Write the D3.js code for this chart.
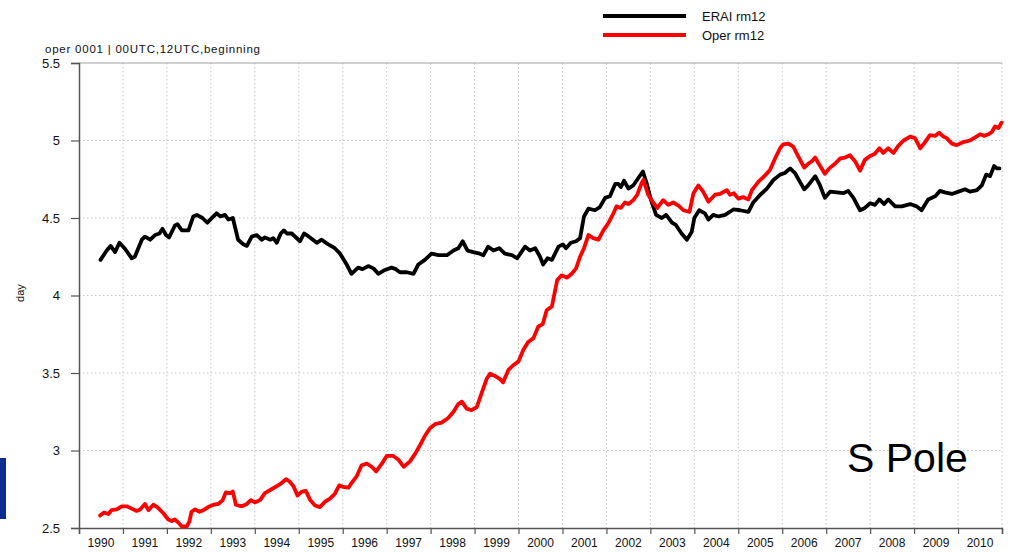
<!DOCTYPE html>
<html>
<head>
<meta charset="utf-8">
<script src="https://cdn.jsdelivr.net/npm/d3@7"></script>
<style>
  html, body { margin: 0; padding: 0; background: #fff; }
  svg { display: block; font-family: "Liberation Sans", Arial, Helvetica, sans-serif; }
</style>
</head>
<body>
<svg id="chart" width="1011" height="553"></svg>
<script>
// ---------- data ----------
const yearTicks = d3.range(1990, 2012);            // year boundaries
const yearLabels = d3.range(1990, 2011).map(String);
const yTickValues = [2.5, 3, 3.5, 4, 4.5, 5, 5.5];
const yTickLabels = ["2.5", "3", "3.5", "4", "4.5", "5", "5.5"];
const seriesNames = ["ERAI rm12", "Oper rm12"];
const seriesColors = ["#000000", "#ff0000"];

const eraiYears = [1990.49,1990.63,1990.72,1990.82,1990.92,1991.05,1991.20,1991.27,1991.43,1991.50,1991.62,1991.73,1991.83,1991.90,1991.98,1992.05,1992.18,1992.24,1992.34,1992.49,1992.60,1992.68,1992.81,1992.92,1993.06,1993.13,1993.22,1993.32,1993.40,1993.50,1993.62,1993.74,1993.82,1993.93,1994.04,1994.16,1994.23,1994.35,1994.42,1994.50,1994.59,1994.66,1994.73,1994.84,1995.03,1995.12,1995.18,1995.41,1995.52,1995.67,1995.82,1995.94,1996.09,1996.20,1996.35,1996.45,1996.58,1996.70,1996.81,1996.96,1997.11,1997.21,1997.30,1997.46,1997.61,1997.72,1997.87,1998.02,1998.18,1998.37,1998.52,1998.63,1998.73,1998.84,1998.97,1999.12,1999.20,1999.31,1999.43,1999.56,1999.69,1999.85,1999.97,2000.15,2000.26,2000.38,2000.49,2000.56,2000.66,2000.76,2000.91,2001.01,2001.08,2001.19,2001.31,2001.40,2001.49,2001.59,2001.74,2001.85,2001.97,2002.08,2002.20,2002.27,2002.33,2002.40,2002.50,2002.61,2002.73,2002.83,2002.92,2003.01,2003.13,2003.26,2003.36,2003.49,2003.58,2003.71,2003.83,2003.94,2004.00,2004.11,2004.24,2004.32,2004.43,2004.55,2004.70,2004.89,2005.04,2005.23,2005.34,2005.50,2005.65,2005.80,2005.95,2006.06,2006.18,2006.29,2006.41,2006.50,2006.59,2006.75,2006.86,2006.97,2007.09,2007.24,2007.39,2007.50,2007.62,2007.77,2007.88,2008.00,2008.11,2008.21,2008.32,2008.41,2008.57,2008.72,2008.91,2009.06,2009.17,2009.32,2009.48,2009.59,2009.70,2009.86,2010.01,2010.16,2010.27,2010.43,2010.54,2010.64,2010.73,2010.82,2010.89,2010.94];
const eraiValues = [4.23,4.29,4.32,4.28,4.34,4.30,4.24,4.25,4.36,4.38,4.36,4.39,4.40,4.43,4.39,4.375,4.45,4.46,4.42,4.42,4.51,4.52,4.50,4.47,4.51,4.53,4.51,4.52,4.49,4.50,4.36,4.33,4.32,4.38,4.39,4.36,4.375,4.36,4.37,4.34,4.40,4.42,4.40,4.40,4.35,4.40,4.39,4.34,4.36,4.33,4.305,4.27,4.20,4.14,4.18,4.17,4.19,4.175,4.14,4.165,4.18,4.17,4.15,4.15,4.14,4.20,4.23,4.27,4.26,4.26,4.29,4.305,4.35,4.29,4.28,4.27,4.26,4.315,4.29,4.305,4.27,4.26,4.24,4.315,4.29,4.305,4.25,4.20,4.24,4.23,4.315,4.33,4.305,4.34,4.35,4.37,4.51,4.56,4.55,4.57,4.63,4.64,4.72,4.72,4.70,4.74,4.69,4.71,4.76,4.80,4.72,4.62,4.52,4.50,4.52,4.47,4.455,4.40,4.36,4.41,4.50,4.55,4.53,4.49,4.52,4.51,4.52,4.555,4.55,4.54,4.60,4.65,4.69,4.745,4.78,4.79,4.82,4.79,4.73,4.685,4.71,4.77,4.71,4.63,4.67,4.665,4.66,4.675,4.63,4.55,4.565,4.595,4.585,4.62,4.59,4.62,4.575,4.575,4.59,4.575,4.55,4.62,4.64,4.675,4.665,4.655,4.67,4.685,4.67,4.68,4.71,4.78,4.77,4.835,4.82,4.82];

const operYears = [1990.48,1990.57,1990.67,1990.74,1990.86,1990.97,1991.09,1991.20,1991.31,1991.39,1991.50,1991.58,1991.69,1991.78,1991.92,1992.03,1992.11,1992.18,1992.26,1992.34,1992.45,1992.51,1992.56,1992.64,1992.74,1992.83,1992.94,1993.06,1993.17,1993.27,1993.34,1993.44,1993.50,1993.57,1993.70,1993.82,1993.91,1994.00,1994.12,1994.23,1994.38,1994.50,1994.61,1994.71,1994.79,1994.88,1994.97,1995.07,1995.16,1995.26,1995.37,1995.48,1995.60,1995.71,1995.82,1995.92,1996.01,1996.13,1996.20,1996.32,1996.43,1996.55,1996.66,1996.76,1996.89,1997.00,1997.15,1997.27,1997.39,1997.53,1997.65,1997.76,1997.87,1997.99,1998.10,1998.25,1998.40,1998.52,1998.63,1998.71,1998.82,1998.93,1999.05,1999.16,1999.28,1999.35,1999.47,1999.58,1999.65,1999.77,1999.88,2000.00,2000.11,2000.22,2000.34,2000.45,2000.55,2000.64,2000.76,2000.88,2000.98,2001.10,2001.21,2001.31,2001.40,2001.49,2001.59,2001.70,2001.82,2001.93,2002.04,2002.16,2002.23,2002.33,2002.42,2002.50,2002.61,2002.70,2002.80,2002.84,2002.95,2003.05,2003.16,2003.29,2003.41,2003.52,2003.64,2003.75,2003.89,2003.98,2004.09,2004.20,2004.32,2004.47,2004.58,2004.74,2004.81,2004.90,2005.00,2005.11,2005.23,2005.31,2005.46,2005.61,2005.72,2005.84,2005.95,2006.02,2006.14,2006.25,2006.37,2006.50,2006.59,2006.67,2006.75,2006.82,2006.97,2007.07,2007.20,2007.32,2007.43,2007.54,2007.66,2007.77,2007.88,2008.00,2008.11,2008.21,2008.30,2008.41,2008.53,2008.64,2008.76,2008.91,2009.02,2009.14,2009.25,2009.36,2009.48,2009.57,2009.67,2009.74,2009.86,2009.97,2010.12,2010.27,2010.39,2010.50,2010.59,2010.69,2010.77,2010.84,2010.92,2010.99];
const operValues = [2.58,2.60,2.59,2.615,2.62,2.64,2.64,2.625,2.61,2.62,2.655,2.615,2.65,2.635,2.595,2.555,2.545,2.555,2.535,2.51,2.51,2.54,2.605,2.62,2.605,2.615,2.635,2.65,2.655,2.68,2.73,2.725,2.735,2.65,2.64,2.655,2.68,2.665,2.68,2.725,2.75,2.77,2.79,2.815,2.80,2.77,2.71,2.735,2.74,2.68,2.645,2.635,2.67,2.69,2.72,2.775,2.765,2.76,2.79,2.835,2.905,2.915,2.895,2.865,2.915,2.965,2.965,2.94,2.895,2.93,2.98,3.035,3.095,3.145,3.17,3.18,3.21,3.25,3.30,3.315,3.27,3.26,3.28,3.37,3.465,3.495,3.48,3.46,3.44,3.52,3.55,3.575,3.65,3.70,3.725,3.80,3.815,3.905,3.93,4.10,4.13,4.115,4.14,4.175,4.25,4.305,4.39,4.37,4.36,4.42,4.465,4.53,4.575,4.565,4.60,4.59,4.615,4.65,4.725,4.745,4.65,4.605,4.565,4.615,4.585,4.60,4.58,4.55,4.54,4.66,4.71,4.67,4.605,4.65,4.655,4.68,4.65,4.66,4.625,4.635,4.62,4.68,4.735,4.775,4.81,4.885,4.95,4.975,4.98,4.96,4.895,4.825,4.85,4.865,4.89,4.855,4.785,4.82,4.85,4.885,4.89,4.905,4.865,4.805,4.875,4.90,4.915,4.95,4.92,4.95,4.92,4.965,5.00,5.025,5.015,4.95,4.99,5.035,5.03,5.05,5.025,5.015,4.98,4.97,4.99,5.00,5.02,5.04,5.03,5.04,5.055,5.09,5.08,5.115];

// ---------- layout ----------
const svg = d3.select("#chart");
const plot = { left: 79, right: 1002, top: 63, bottom: 528 };

const x = d3.scaleLinear().domain([1990, 2011]).range([plot.left, plot.right]);
const y = d3.scaleLinear().domain([2.5, 5.5]).range([plot.bottom, plot.top]);

// grid
const grid = svg.append("g");
grid.selectAll("line.vg").data(yearTicks.slice(1)).enter().append("line")
  .attr("x1", d => x(d)).attr("x2", d => x(d))
  .attr("y1", plot.top).attr("y2", plot.bottom)
  .attr("stroke", "#c8c8c8").attr("stroke-width", 1).attr("stroke-dasharray", "1.5,2.5");
grid.selectAll("line.hg").data(yTickValues.slice(1, -1)).enter().append("line")
  .attr("x1", plot.left).attr("x2", plot.right)
  .attr("y1", d => y(d)).attr("y2", d => y(d))
  .attr("stroke", "#c8c8c8").attr("stroke-width", 1).attr("stroke-dasharray", "1.5,2.5");
grid.append("line")
  .attr("x1", plot.left).attr("x2", plot.right)
  .attr("y1", y(5.5)).attr("y2", y(5.5))
  .attr("stroke", "#a0a0a0").attr("stroke-width", 1);

// axes
const xAxis = d3.axisBottom(x).tickValues(yearTicks).tickSize(6).tickFormat("");
const gx = svg.append("g").attr("transform", `translate(0,${plot.bottom})`).call(xAxis);
gx.select(".domain").attr("stroke", "#555").attr("stroke-width", 1.5);
gx.selectAll(".tick line").attr("stroke", "#555").attr("stroke-width", 1.2);

svg.append("g").selectAll("text").data(yearLabels).enter().append("text")
  .attr("x", d => x(+d + 0.5)).attr("y", 547)
  .attr("text-anchor", "middle").attr("font-size", 12).attr("fill", "#111")
  .text(d => d);

const yAxis = d3.axisLeft(y).tickValues(yTickValues).tickSize(8)
  .tickFormat((d, i) => yTickLabels[i]).tickPadding(11);
const gy = svg.append("g").attr("transform", `translate(${plot.left},0)`).call(yAxis);
gy.select(".domain").attr("stroke", "#555").attr("stroke-width", 1.5);
gy.selectAll(".tick line").attr("stroke", "#555").attr("stroke-width", 1.2);
gy.selectAll(".tick text").attr("font-size", 13).attr("fill", "#111")
  .attr("font-family", "'Liberation Sans', Arial, sans-serif");

// y label
svg.append("text").attr("transform", "translate(24,293) rotate(-90)")
  .attr("text-anchor", "middle").attr("font-size", 11).attr("fill", "#111").text("day");

// header
svg.append("text").attr("x", 45).attr("y", 53).attr("font-size", 11.5).attr("fill", "#111")
  .attr("textLength", 215).attr("lengthAdjust", "spacing")
  .text("oper 0001 | 00UTC,12UTC,beginning");

// lines
const line = d3.line().x(d => x(d[0])).y(d => y(d[1])).curve(d3.curveLinear);
const series = [
  d3.zip(eraiYears, eraiValues),
  d3.zip(operYears, operValues)
];
series.forEach((s, i) => {
  svg.append("path").datum(s).attr("d", line).attr("fill", "none")
    .attr("stroke", seriesColors[i]).attr("stroke-width", 3.8)
    .attr("stroke-linejoin", "round").attr("stroke-linecap", "round");
});

// legend
const leg = svg.append("g");
seriesNames.forEach((name, i) => {
  const ly = 16 + i * 19;
  leg.append("line").attr("x1", 603).attr("x2", 686).attr("y1", ly).attr("y2", ly)
    .attr("stroke", seriesColors[i]).attr("stroke-width", 4);
  leg.append("text").attr("x", 702).attr("y", ly + 4.5).attr("font-size", 13).attr("fill", "#111").text(name);
});

// S Pole label
svg.append("text").attr("x", 847).attr("y", 472).attr("font-size", 41).attr("fill", "#000").text("S Pole");

// blue bar at left edge
svg.append("rect").attr("x", 0).attr("y", 458).attr("width", 6).attr("height", 61).attr("fill", "#0b2d8f");
</script>
</body>
</html>
